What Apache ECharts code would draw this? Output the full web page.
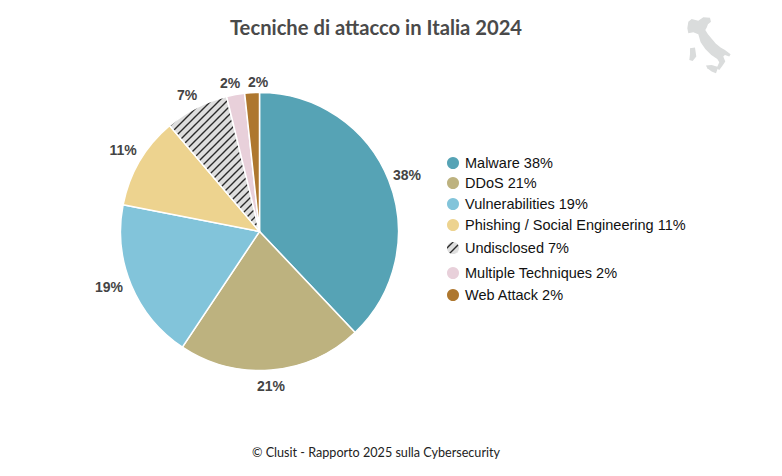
<!DOCTYPE html>
<html>
<head>
<meta charset="utf-8">
<style>html,body{margin:0;padding:0;background:#fff}#chart{width:782px;height:476px}</style>
<script src="https://cdn.jsdelivr.net/npm/echarts@6/dist/echarts.min.js"></script>
</head>
<body>
<div id="chart"></div>
<script>
const categories = ['Malware', 'DDoS', 'Vulnerabilities', 'Phishing / Social Engineering', 'Undisclosed', 'Multiple Techniques', 'Web Attack'];
const shares = [37.9, 21.4, 18.7, 10.7, 7.4, 2.1, 1.7];
const colors = ['#56a3b5', '#bdb27f', '#82c4da', '#edd38f', null, '#e8d0da', '#ae772e'];
const legendTops = [155, 175, 196, 217, 240, 265, 287];
// label centres as placed in the original
const labelSpots = [[407, 175], [271, 386], [109, 287], [123, 150], [187, 95], [230, 83], [258, 82]];
const sansFont = 'Liberation Sans';

function stripes() {
    let c = document.createElement('canvas');
    c.width = 8;
    c.height = 8;
    let ctx = c.getContext('2d');
    ctx.fillStyle = '#dedede';
    ctx.fillRect(0, 0, 8, 8);
    ctx.strokeStyle = '#2a2a2a';
    ctx.lineWidth = 1.4;
    ctx.beginPath();
    ctx.moveTo(-1, 9); ctx.lineTo(9, -1);
    ctx.moveTo(-1, 1); ctx.lineTo(1, -1);
    ctx.moveTo(7, 9); ctx.lineTo(9, 7);
    ctx.stroke();
    return c;
}
const stripeFill = { image: stripes(), repeat: 'repeat' };

const legendText = categories.map((c, i) => c + ' ' + Math.round(shares[i]) + '%');

let chart = echarts.init(document.getElementById('chart'), null, { renderer: 'svg' });
chart.setOption({
    backgroundColor: '#fff',
    animation: false,
    // one legend per row, the rows are not evenly spaced
    legend: categories.map((c, i) => ({
        data: [c],
        left: 445,
        top: legendTops[i],
        padding: 0,
        icon: 'circle',
        itemWidth: 14,
        itemHeight: 14,
        selectedMode: false,
        formatter: () => legendText[i],
        textStyle: { fontFamily: sansFont, fontSize: 14.5, color: '#111' }
    })),
    series: [{
        type: 'pie',
        center: [259.5, 231.5],
        radius: [0, 139],
        startAngle: 90,
        clockwise: true,
        avoidLabelOverlap: false,
        itemStyle: { borderColor: '#fff', borderWidth: 1.5 },
        label: {
            position: 'outside',
            formatter: p => Math.round(p.value) + '%',
            fontFamily: sansFont,
            fontSize: 14,
            fontWeight: 'bold',
            color: '#444'
        },
        labelLine: { show: false },
        labelLayout: p => ({
            x: labelSpots[p.dataIndex][0],
            y: labelSpots[p.dataIndex][1],
            align: 'center',
            verticalAlign: 'middle'
        }),
        data: categories.map((c, i) => ({
            name: c,
            value: shares[i],
            itemStyle: { color: colors[i] || stripeFill }
        }))
    }],
    graphic: [
        {
            type: 'text', x: 376, y: 27,
            style: {
                text: 'Tecniche di attacco in Italia 2024',
                font: 'bold 20.2px Lato', fill: '#4a4a4a',
                textAlign: 'center', textVerticalAlign: 'middle'
            }
        },
        {
            type: 'text', x: 376, y: 452,
            style: {
                text: '© Clusit - Rapporto 2025 sulla Cybersecurity',
                font: '12.6px Lato', fill: '#222',
                textAlign: 'center', textVerticalAlign: 'middle'
            }
        },
        {
            type: 'group',
            x: 670, y: 5,
            scaleX: 1 / 3, scaleY: 1 / 3,
            children: [
                {
                    type: 'polygon',
                    shape: { points: [[52,70],[55,50],[65,42],[85,47],[100,37],[120,38],[123,50],[114,58],[110,68],[106,75],[114,88],[124,100],[138,116],[152,128],[165,135],[182,148],[178,155],[165,150],[160,155],[166,170],[158,182],[148,195],[140,190],[148,172],[142,162],[124,150],[106,132],[92,112],[85,88],[70,82],[55,85]] },
                    style: { fill: '#dadcdc' }
                },
                {
                    type: 'polygon',
                    shape: { points: [[60,130],[75,128],[79,155],[68,168],[58,165],[60,148]] },
                    style: { fill: '#dadcdc' }
                },
                {
                    type: 'polygon',
                    shape: { points: [[108,182],[125,180],[145,186],[138,205],[125,200],[112,190]] },
                    style: { fill: '#dadcdc' }
                }
            ]
        }
    ]
});
</script>
</body>
</html>
